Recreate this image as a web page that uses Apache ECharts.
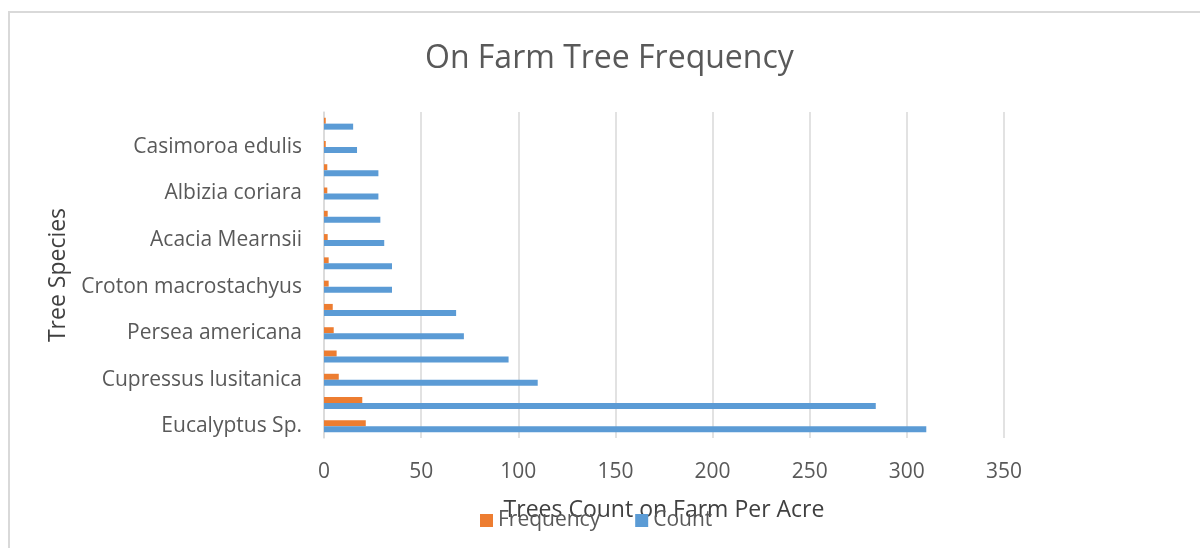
<!DOCTYPE html>
<html>
<head>
<meta charset="utf-8">
<title>On Farm Tree Frequency</title>
<script src="https://cdn.jsdelivr.net/npm/echarts@6/dist/echarts.min.js"></script>
<style>
  html, body { margin: 0; padding: 0; background: #ffffff; }
  #chart { width: 1200px; height: 548px; }
</style>
</head>
<body>
<div id="chart"></div>
<script>
// Tree species, listed from the bottom of the axis upwards
const species = [
  'Eucalyptus Sp.', 'Grevillea robusta', 'Cupressus lusitanica', 'Mangifera indica',
  'Persea americana', 'Markhamia lutea', 'Croton macrostachyus', 'Cordia africana',
  'Acacia Mearnsii', 'Croton megalocarpus', 'Albizia coriara', 'Prunus africana',
  'Casimoroa edulis', 'Macadamia integrifolia'
];
// Trees counted per acre
const countValues = [310, 284, 110, 95, 72, 68, 35, 35, 31, 29, 28, 28, 17, 15];
// Frequency of each species across farms
const frequencyValues = [21.5, 19.7, 7.6, 6.5, 5.0, 4.5, 2.4, 2.4, 1.9, 1.9, 1.7, 1.7, 0.9, 0.9];
// Value axis ticks
const xTicks = { min: 0, max: 350, interval: 50 };

const FONT = "'Open Sans', 'Noto Sans', sans-serif";
const chart = echarts.init(document.getElementById('chart'), null, { renderer: 'canvas' });

chart.setOption({
  animation: false,
  backgroundColor: '#ffffff',
  textStyle: { fontFamily: FONT },
  graphic: [{
    type: 'rect',
    silent: true,
    shape: { x: 9, y: 12, width: 1400, height: 700 },
    style: { fill: 'none', stroke: '#d9d9d9', lineWidth: 2 }
  }],
  title: {
    text: 'On Farm Tree Frequency',
    left: 425,
    top: 43,
    padding: 0,
    textStyle: { fontFamily: FONT, fontSize: 32, fontWeight: 'normal', color: '#595959' }
  },
  legend: {
    data: ['Frequency', 'Count'],
    left: 475,
    top: 505,
    icon: 'rect',
    itemWidth: 13,
    itemHeight: 13,
    itemGap: 35,
    textStyle: { fontFamily: FONT, fontSize: 21, color: '#595959' }
  },
  grid: { left: 324, right: 196, top: 112, bottom: 110, containLabel: false },
  xAxis: {
    type: 'value',
    min: xTicks.min,
    max: xTicks.max,
    interval: xTicks.interval,
    name: 'Trees Count on Farm Per Acre',
    nameLocation: 'middle',
    nameGap: 61,
    nameTextStyle: { fontFamily: FONT, fontSize: 23, color: '#404040' },
    axisLine: { show: false },
    axisTick: { show: false },
    axisLabel: { fontFamily: FONT, fontSize: 21, color: '#595959', margin: 24 },
    splitLine: { show: true, lineStyle: { color: '#d9d9d9', width: 1.5 } }
  },
  yAxis: {
    type: 'category',
    data: species,
    name: 'Tree Species',
    nameLocation: 'middle',
    nameGap: 249,
    nameTextStyle: { fontFamily: FONT, fontSize: 23, color: '#404040' },
    axisLine: { show: true, lineStyle: { color: '#d9d9d9', width: 1.5 } },
    axisTick: { show: false },
    axisLabel: { interval: 1, fontFamily: FONT, fontSize: 21, color: '#595959', margin: 22 },
    splitLine: { show: false }
  },
  series: [
    {
      name: 'Frequency',
      type: 'bar',
      data: frequencyValues,
      barWidth: 6,
      barGap: '0%',
      itemStyle: { color: '#ED7D31' }
    },
    {
      name: 'Count',
      type: 'bar',
      data: countValues,
      barWidth: 6,
      barGap: '0%',
      itemStyle: { color: '#5B9BD5' }
    }
  ]
});
</script>
</body>
</html>
